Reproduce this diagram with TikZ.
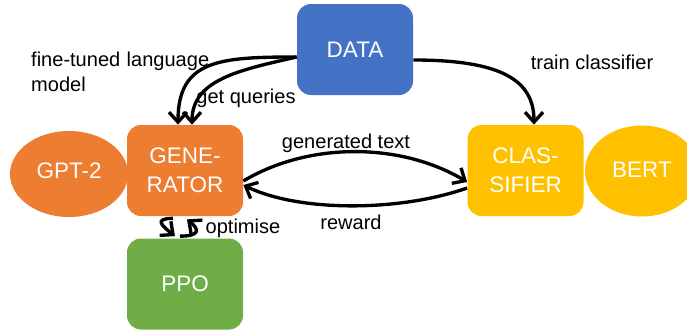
\documentclass[tikz,border=0pt]{standalone}
\usepackage{fontspec}
\setmainfont{Liberation Sans}
\usepackage{tikz}
\usetikzlibrary{arrows.meta}
\definecolor{dataBlue}{HTML}{4472C4}
\definecolor{genOrange}{HTML}{ED7D31}
\definecolor{clsYellow}{HTML}{FFC000}
\definecolor{ppoGreen}{HTML}{70AD47}

\begin{document}
\begin{tikzpicture}[
  box/.style={rounded corners=0.28cm, minimum width=2.32cm, minimum height=1.82cm,
    text=white, align=center, font=\fontsize{12.8}{16.5}\selectfont},
  lbl/.style={font=\fontsize{11.4}{14}\selectfont},
  arr/.style={-{Straight Barb[length=2mm,width=3.6mm]}, line width=1.9pt}
]
\useasboundingbox (0,0) rectangle (13.74,6.6);
\clip (0,0) rectangle (13.74,6.6);
% models behind the boxes
\fill[genOrange] (1.38,3.12) ellipse (1.18cm and 0.86cm);
\node[text=white, font=\fontsize{12.8}{16.5}\selectfont] (gpt) at (1.38,3.19) {GPT-2};
\fill[clsYellow] (12.84,3.18) ellipse (1.14cm and 0.91cm);
\node[text=white, font=\fontsize{12.8}{16.5}\selectfont] (bert) at (12.84,3.2) {BERT};
% boxes
\node[box, fill=dataBlue] (data) at (7.10,5.61) {DATA};
\node[box, fill=genOrange] (generator) at (3.70,3.19) {GENE-\\RATOR};
\node[box, fill=clsYellow] (classifier) at (10.51,3.19) {CLAS-\\SIFIER};
\node[box, fill=ppoGreen] (ppo) at (3.70,0.92) {PPO};
% labels
\node[lbl, anchor=north west, align=left] (finetuned) at (0.5,5.68) {\makebox[3.56cm][s]{fine-tuned language}\\model};
\node[lbl] (queries) at (4.92,4.64) {get queries};
\node[lbl] (train) at (11.84,5.36) {train classifier};
\node[lbl] (gentext) at (6.92,3.74) {generated text};
\node[lbl] (reward) at (7.02,2.16) {reward};
\node[lbl] (optimise) at (4.86,2.04) {optimise};
% connectors
\draw[arr] ([yshift=-0.15cm]data.west) .. controls +(-1.54,0) and +(0,1.3) .. ([xshift=-0.14cm]generator.north);
\draw[arr] ([yshift=-0.15cm]data.west) .. controls +(-1.14,-0.26) and +(0,0.9) .. ([xshift=0.14cm]generator.north);
\draw[arr] ([yshift=-0.21cm]data.east) .. controls +(1.74,0) and +(0,0.9) .. ([xshift=0.17cm]classifier.north);
\draw[arr] ([yshift=-0.21cm]generator.east) .. controls +(1.3,0.78) and +(-1.34,0.8) .. ([yshift=-0.23cm]classifier.west);
\draw[arr] ([yshift=-0.35cm]classifier.west) .. controls +(-1.36,-0.48) and +(1.1,-0.54) .. ([yshift=-0.29cm]generator.east);
\draw[arr] ([xshift=-0.24cm,yshift=-0.04cm]generator.south) .. controls +(-0.4,0) and +(-0.25,0.2) .. ([xshift=-0.2cm,yshift=0.04cm]ppo.north);
\draw[arr] ([xshift=-0.1cm,yshift=0.04cm]ppo.north) .. controls +(0.4,0) and +(0.25,-0.2) .. ([xshift=0.04cm,yshift=-0.06cm]generator.south);
\end{tikzpicture}
\end{document}
